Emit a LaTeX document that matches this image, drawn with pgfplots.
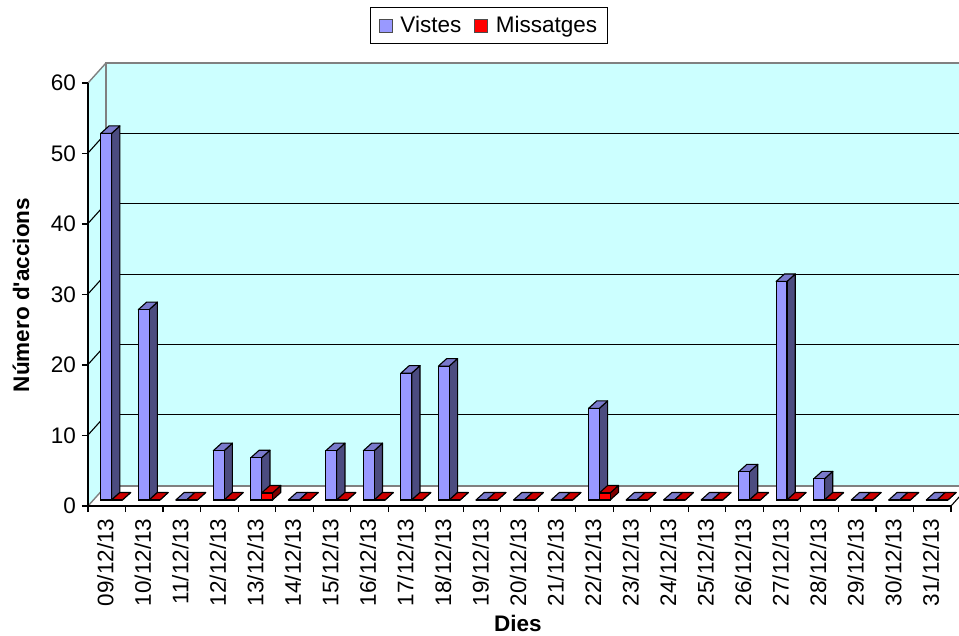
\documentclass[border=0pt]{standalone}
\usepackage{pgfplots}
\usepackage{pgfplotstable}
\usepackage{fontspec}
\setmainfont{Liberation Sans}
\pgfplotsset{compat=1.18}
\definecolor{wall}{HTML}{CCFFFF}
\definecolor{vfront}{HTML}{9999FF}
\definecolor{vtop}{HTML}{7A7ACC}
\definecolor{vside}{HTML}{4C4C80}
\definecolor{mfront}{HTML}{FF0000}
\definecolor{mtop}{HTML}{CC0000}
\definecolor{mside}{HTML}{800000}
\definecolor{edge}{HTML}{808080}
\pgfplotstableread{
i v m
0 52 0
1 27 0
2 0 0
3 7 0
4 6 1
5 0 0
6 7 0
7 7 0
8 18 0
9 19 0
10 0 0
11 0 0
12 0 0
13 13 1
14 0 0
15 0 0
16 0 0
17 4 0
18 31 0
19 3 0
20 0 0
21 0 0
22 0 0
}\data
% one bar's side and top faces, in axis units, from table column #2
\newcommand\faces[4]{%
  \pgfplotstablegetelem{#1}{#2}\of\data
  \pgfmathsetmacro\yy{\pgfplotsretval}%
  \pgfmathsetmacro\xl{#1+(#3)/37.52-5.4/37.52}%
  \pgfmathsetmacro\xr{#1+(#3)/37.52+5.4/37.52}%
  \pgfmathsetmacro\xls{\xl+8.3/37.52}%
  \pgfmathsetmacro\xrs{\xr+8.3/37.52}%
  \pgfmathsetmacro\yys{\yy+7.5/7.05}%
  \pgfmathsetmacro\zs{7.5/7.05}%
  \edef\tmp{\noexpand\addplot[forget plot,draw=black,line width=1.1pt,line join=round,fill=#4side] coordinates {(\xr,0) (\xrs,\zs) (\xrs,\yys) (\xr,\yy)} --cycle;
  \noexpand\addplot[forget plot,draw=black,line width=1.1pt,line join=round,fill=#4top] coordinates {(\xl,\yy) (\xr,\yy) (\xrs,\yys) (\xls,\yys)} --cycle;}%
  \tmp
}
\begin{document}
\begin{tikzpicture}
\clip (0pt,0pt) rectangle (959pt,-635pt);
\fill[white] (0pt,0pt) rectangle (959pt,-635pt);
% side wall and floor
\begin{scope}[x=1pt,y=-1pt]
\fill[wall] (88,83) -- (106,63) -- (106,486) -- (88,506) -- cycle;
\fill[white] (88,506) -- (106,486) -- (969,486) -- (951,506) -- cycle;
\foreach \yy in {153,223.5,294,364.5,435} {
  \draw[black,line width=1.1pt] (88,\yy) -- (106,\yy-20);
}
\draw[edge,line width=1.4pt] (88,83) -- (106,63);
\draw[edge,line width=1.4pt] (88,506) -- (106,486);
\draw[black,line width=1.1pt] (951,506) -- (969,486);
\end{scope}
% back wall
\begin{axis}[
  at={(106pt,-486pt)}, anchor=south west,
  scale only axis, width=863pt, height=423pt,
  xmin=-0.5, xmax=22.5, ymin=0, ymax=60,
  axis background/.style={fill=wall},
  axis line style={draw=edge,line width=1.4pt},
  xtick=\empty, ytick={10.1418,20.0709,30,40.0709,50},
  yticklabels={}, major tick length=0pt,
  ymajorgrids, grid style={black,line width=1.1pt},
]
\end{axis}
% front axes with the ticks and labels
\begin{axis}[
  at={(88pt,-506pt)}, anchor=south west,
  scale only axis, width=863pt, height=423pt,
  xmin=-0.5, xmax=22.5, ymin=0, ymax=60,
  axis x line*=bottom, axis y line*=left,
  axis line style={draw=black,line width=1.1pt,-},
  tick style={draw=black,line width=1.1pt},
  tick align=outside, major tick length=6pt,
  xtick={-0.5,0.5,...,22.5},
  x tick label as interval,
  xticklabels={09/12/13,10/12/13,11/12/13,12/12/13,13/12/13,14/12/13,15/12/13,16/12/13,17/12/13,18/12/13,19/12/13,20/12/13,21/12/13,22/12/13,23/12/13,24/12/13,25/12/13,26/12/13,27/12/13,28/12/13,29/12/13,30/12/13,31/12/13},
  x tick label style={yshift=-3pt,xshift=-1.5pt,rotate=90,anchor=east,font=\fontsize{22.5}{24}\selectfont},
  ytick={0,10,...,60},
  y tick label style={xshift=-2.5pt,font=\fontsize{22.5}{24}\selectfont},
  /pgf/number format/assume math mode=true,
  xlabel={Dies},
  ylabel={Número d\textquotesingle accions},
  xlabel style={at={(axis description cs:0.498,-0.278)},anchor=center,font=\bfseries\fontsize{22.5}{24}\selectfont},
  ylabel style={at={(axis description cs:-0.0776,0.499)},anchor=center,rotate=0,font=\bfseries\fontsize{22.5}{24}\selectfont},
]
\end{axis}
% bars, standing in the middle of the floor's depth
\begin{axis}[
  at={(87.2pt,-500pt)}, anchor=south west,
  scale only axis, width=863pt, height=423pt,
  xmin=-0.5, xmax=22.5, ymin=0, ymax=60,
  axis lines=none, clip=false,
  legend style={at={(axis description cs:0.4656,1.1217)},anchor=center,
    draw=black,line width=1.1pt,fill=white,
    font=\fontsize{22.5}{24}\selectfont,
    /tikz/every even column/.append style={column sep=11pt},
    inner xsep=8pt,inner ysep=7.5pt},
  legend columns=2,
  legend image code/.code={\path[draw=none,fill=none] (0pt,0pt) rectangle (19pt,0.1pt);\draw[draw=black!70,line width=1pt,#1] (0pt,-6.5pt) rectangle (13pt,6.5pt);},
]
\pgfplotsinvokeforeach{0,...,22}{\faces{#1}{v}{0.2}{v}}
\addplot[ybar,bar shift=0.2pt,bar width=10.8pt,draw=black,line width=1.1pt,fill=vfront] table[x=i,y=v] {\data};
\addlegendentry{Vistes}
\pgfplotsinvokeforeach{0,...,22}{\faces{#1}{m}{11}{m}}
\addplot[ybar,bar shift=11pt,bar width=10.8pt,draw=black,line width=1.1pt,fill=mfront] table[x=i,y=m] {\data};
\addlegendentry{Missatges}
\end{axis}
\end{tikzpicture}
\end{document}
